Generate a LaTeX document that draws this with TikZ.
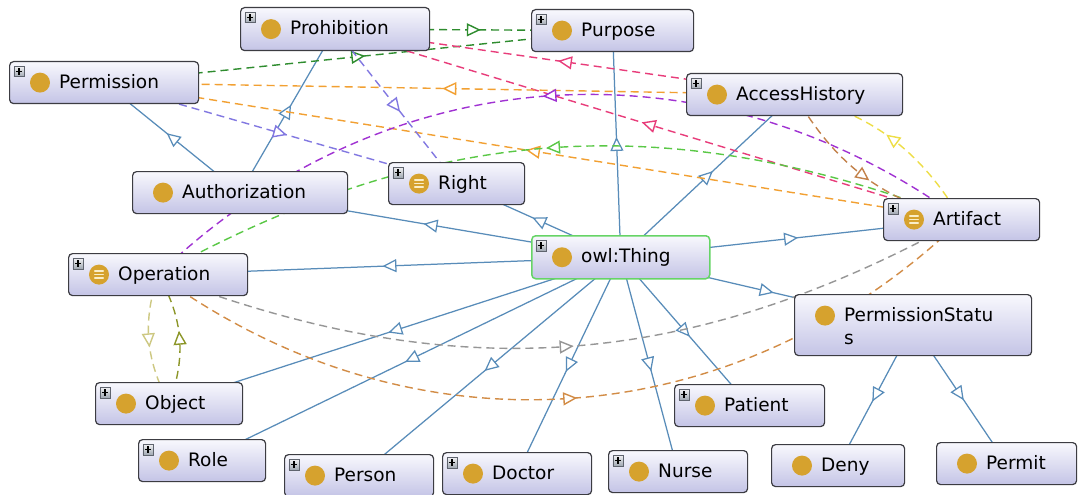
\documentclass[tikz,border=0pt]{standalone}
\usepackage{fontspec}
\setmainfont{DejaVu Sans}
\usetikzlibrary{arrows.meta,decorations.markings,calc}

\pgfdeclarelayer{canvas}
\pgfdeclarelayer{edges}
\pgfsetlayers{canvas,edges,main}

% box and icon colours
\definecolor{boxline}{RGB}{60,60,66}
\definecolor{boxtop}{RGB}{248,248,253}
\definecolor{boxbot}{RGB}{196,196,230}
\definecolor{thingline}{RGB}{102,212,102}
\definecolor{dotgold}{RGB}{214,162,46}
\definecolor{barcream}{RGB}{250,238,200}
\definecolor{plusline}{RGB}{95,100,110}
\definecolor{plustop}{RGB}{240,240,242}
\definecolor{plusbot}{RGB}{160,168,178}
% connector colours
\definecolor{isablue}{RGB}{88,140,185}
\definecolor{cdgreen}{RGB}{46,140,46}
\definecolor{cpink}{RGB}{232,60,122}
\definecolor{corange}{RGB}{242,160,50}
\definecolor{clavender}{RGB}{130,120,225}
\definecolor{cpurple}{RGB}{160,50,210}
\definecolor{clgreen}{RGB}{90,200,70}
\definecolor{cyellow}{RGB}{238,222,70}
\definecolor{cbrown}{RGB}{195,130,75}
\definecolor{cgray}{RGB}{150,150,150}
\definecolor{cobrown}{RGB}{210,140,70}
\definecolor{clolive}{RGB}{205,200,130}
\definecolor{cdolive}{RGB}{140,150,40}

\tikzset{
  clsbox/.style={draw=boxline, line width=1.2pt, rounded corners=4pt,
    top color=boxtop, bottom color=boxbot, minimum height=42pt,
    inner sep=0pt, anchor=north west},
  plusbox/.style={draw=plusline, line width=0.6pt, top color=plustop,
    bottom color=plusbot, minimum size=10.5pt, inner sep=0pt, anchor=north west,
    path picture={\draw[line width=1.4pt,black]
      ($(path picture bounding box.center)+(-3.2pt,0)$) -- ++(6.4pt,0)
      ($(path picture bounding box.center)+(0,-3.2pt)$) -- ++(0,6.4pt);}},
  classdot/.style={circle, fill=dotgold, minimum size=20pt, inner sep=0pt},
  equivbars/.style={draw=barcream, line width=1.5pt, line cap=round},
  clslabel/.style={anchor=base west, inner sep=0pt,
    font=\fontsize{18.5}{23}\selectfont},
  midtip/.style={postaction=decorate, decoration={markings,
    mark=at position 0.5 with {\arrow[xshift=7pt]{Triangle[fill=white,length=14pt,width=13pt]}}}},
  isa/.style={draw=isablue, line width=1.25pt, midtip},
  rel/.style={draw=#1, line width=1.4pt, dash pattern=on 8pt off 5pt, midtip},
}

% a class box with its bullet and name
\newcommand\ontoclass[6][]{%
  \node[clsbox, minimum width=#5pt, #1] (#2) at (#3pt,-#4pt) {};
  \node[classdot] (#2-dot) at ([xshift=31pt]#2.west) {};
  \node[clslabel] (#2-label) at ([xshift=50pt,yshift=-5.5pt]#2.west) {#6};
}
\newcommand\plusmark[1]{\node[plusbox] (#1-plus) at ([xshift=4.5pt,yshift=-5pt]#1.north west) {};}
\newcommand\equivmark[1]{%
  \draw[equivbars] ([shift={(-4.2pt,3.6pt)}]#1-dot.center) -- ++(8.4pt,0)
                   ([shift={(-4.2pt,0pt)}]#1-dot.center) -- ++(8.4pt,0)
                   ([shift={(-4.2pt,-3.6pt)}]#1-dot.center) -- ++(8.4pt,0);}

\begin{document}
\begin{tikzpicture}
\useasboundingbox (0,0) rectangle (1080pt,-495pt);
\begin{pgfonlayer}{canvas}
  \fill[white] (0,0) rectangle (1080pt,-495pt);
\end{pgfonlayer}

% classes
\ontoclass[minimum height=43pt]{prohibition}{240}{7}{189}{Prohibition}
\ontoclass{purpose}{531}{9}{162}{Purpose}
\ontoclass{permission}{9}{61}{189}{Permission}
\ontoclass{accesshistory}{686}{73}{216}{AccessHistory}
\ontoclass{authorization}{132}{171}{215}{Authorization}
\ontoclass{right}{388}{162}{136}{Right}
\ontoclass{artifact}{883}{198}{156}{Artifact}
\ontoclass[minimum height=43pt, draw=thingline, line width=1.5pt]{thing}{531}{235}{178}{owl:Thing}
\ontoclass{operation}{68}{253}{179}{Operation}
\ontoclass{object}{95}{382}{147}{Object}
\ontoclass{patient}{674}{384}{150}{Patient}
\ontoclass{role}{138}{439}{127}{Role}
\ontoclass{deny}{771}{444}{133}{Deny}
\ontoclass{permit}{936}{442}{140}{Permit}
\ontoclass{person}{284}{454}{149}{Person}
\ontoclass{doctor}{442}{452}{149}{Doctor}
\ontoclass{nurse}{608}{450}{139}{Nurse}

% two-line class name
\node[clsbox, minimum width=237pt, minimum height=61pt] (permstatus) at (794pt,-294pt) {};
\node[classdot] (permstatus-dot) at ([xshift=31pt,yshift=9.5pt]permstatus.west) {};
\node[clslabel, align=left] (permstatus-label) at ([xshift=50pt,yshift=-19pt]permstatus.west) {PermissionStatu\\s};

\foreach \c in {prohibition,purpose,permission,accesshistory,right,artifact,
  thing,operation,object,patient,role,person,doctor,nurse}{\plusmark{\c}}
\foreach \c in {right,artifact,operation}{\equivmark{\c}}

\begin{pgfonlayer}{edges}
  % subclass links
  \foreach \c in {operation,authorization,right,purpose,accesshistory,artifact,
    permstatus,patient,nurse,doctor,person,role,object}
    {\draw[isa] (thing.center) -- (\c.center);}
  \draw[isa] (authorization.center) -- (permission.center);
  \draw[isa] (authorization.center) -- (prohibition.center);
  \draw[isa] (permstatus.center) -- (deny.center);
  \draw[isa] (permstatus.center) -- (permit.center);

  % object properties
  \draw[rel=cdgreen] (prohibition.center) -- (purpose.center);
  \draw[rel=cdgreen] (permission.center) -- (purpose.center);
  \draw[rel=cpink] (accesshistory.center) -- (prohibition.center);
  \draw[rel=cpink] (artifact.center) -- (prohibition.center);
  \draw[rel=corange] (accesshistory.center) -- (permission.center);
  \draw[rel=corange] (artifact.center) -- (permission.center);
  \draw[rel=clavender] (permission.center) -- (right.center);
  \draw[rel=clavender] (prohibition.center) -- (right.center);
  \draw[rel=cpurple] (artifact.center) to[bend right=40] (operation.center);
  \draw[rel=clgreen] (artifact.center) to[bend right=25] (operation.center);
  \draw[rel=cgray] (operation.center) to[bend right=25] (artifact.center);
  \draw[rel=cobrown] (operation.center) to[bend right=40] (artifact.center);
  \draw[rel=cbrown] (accesshistory.center) to[bend right=23] (artifact.center);
  \draw[rel=cyellow] (artifact.center) to[bend right=22] (accesshistory.center);
  \draw[rel=clolive] (operation.center) to[bend right=23] (object.center);
  \draw[rel=cdolive] (object.center) to[bend right=25] (operation.center);
\end{pgfonlayer}
\end{tikzpicture}
\end{document}
